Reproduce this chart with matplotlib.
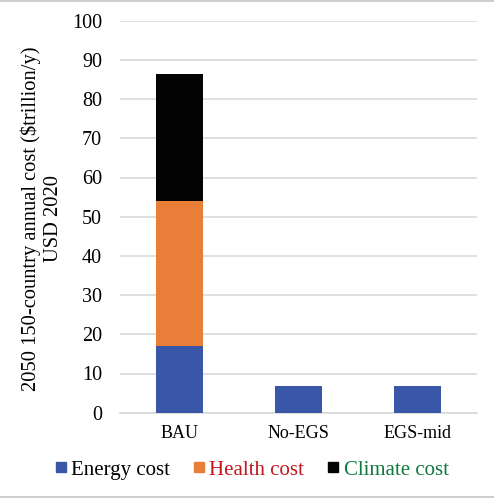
import numpy as np
import matplotlib.pyplot as plt
from matplotlib.lines import Line2D

categories = ["BAU", "No-EGS", "EGS-mid"]
energy = [17.1, 6.7, 6.7]
health = [36.9, 0, 0]
climate = [32.5, 0, 0]
series_names = ["Energy cost", "Health cost", "Climate cost"]
bar_colors = ["#3A56A8", "#E87E38", "#030303"]
text_colors = ["#000000", "#C0161E", "#0E7A3C"]

plt.rcParams['font.family'] = ['Liberation Serif', 'DejaVu Serif']

fig = plt.figure(figsize=(4.94, 5.0), dpi=100)
ax = fig.add_axes([120/494, 1 - 412.7/500, 357/494, 392/500])

x = np.arange(len(categories))
e = np.array(energy)
h = np.array(health)
c = np.array(climate)
ax.bar(x, e, 0.4, color=bar_colors[0], zorder=3)
ax.bar(x, h, 0.4, bottom=e, color=bar_colors[1], zorder=3)
ax.bar(x, c, 0.4, bottom=e + h, color=bar_colors[2], zorder=3)

ax.set_xlim(-0.5, 2.5)
ax.set_ylim(0, 100)
ax.set_yticks(range(0, 101, 10))
ax.set_xticks(x)
ax.set_xticklabels(categories, fontsize=13)
ax.tick_params(axis='y', labelsize=14.5, length=0, pad=13)
ax.tick_params(axis='x', length=0, pad=9)
ax.grid(axis='y', color='#D9D9D9', linewidth=1.2, zorder=0)
for s in ["top", "right", "left"]:
    ax.spines[s].set_visible(False)
ax.spines["bottom"].set_color('#D9D9D9')
ax.spines["bottom"].set_linewidth(1.2)

# y label as figure text so both lines sit where the original has them
fig.text(42/494, 1 - 218.5/500, "2050 150-country annual cost ($trillion/y)\nUSD 2020",
         rotation=90, ha='center', va='center', multialignment='center',
         fontsize=14.8, linespacing=1.22)

handles = [Line2D([], [], marker='s', linestyle='none', markersize=7, color=col)
           for col in bar_colors]
leg = fig.legend(handles, series_names, loc='center', bbox_to_anchor=(0.508, 1 - 470/500),
                 ncol=3, frameon=False, fontsize=15, handletextpad=0.15,
                 columnspacing=1.04, handlelength=0.7)
for t, col in zip(leg.get_texts(), text_colors):
    t.set_color(col)

fig.add_artist(Line2D([0, 1], [0.998, 0.998], color='#CFCFCF', linewidth=1.5))
fig.add_artist(Line2D([0, 1], [0.006, 0.006], color='#CFCFCF', linewidth=1.5))

fig.savefig("out.png", dpi=100)
